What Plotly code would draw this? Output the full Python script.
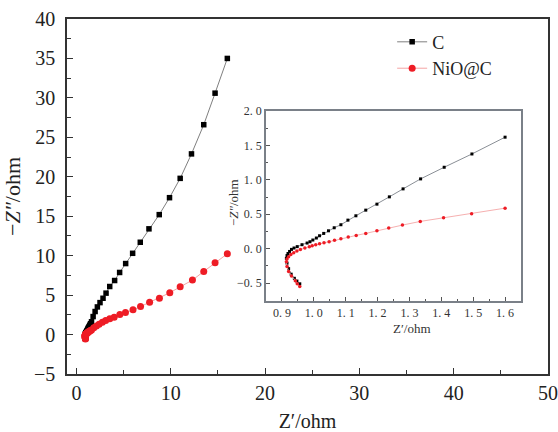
import plotly.graph_objects as go

# ---- data (Z' , -Z'') ----
c_x = [0.956, 0.947, 0.939, 0.929, 0.921, 0.916, 0.914, 0.916, 0.919, 0.924, 0.93, 0.938, 0.948, 0.963,
       0.979, 0.988, 0.997, 1.008, 1.018, 1.031, 1.046, 1.064, 1.085, 1.107, 1.132, 1.163,
       1.198, 1.237, 1.28, 1.335, 1.409, 1.496, 1.6,
       1.77, 1.98, 2.22, 2.5, 2.82, 3.14, 3.53, 4.05, 4.58, 5.22, 5.96, 6.77, 7.69, 8.78,
       9.87, 11.0, 12.2, 13.5, 14.7, 16.0]
c_y = [-0.51, -0.47, -0.43, -0.37, -0.29, -0.21, -0.14, -0.10, -0.07, -0.04, -0.01, 0.01, 0.03, 0.058,
       0.082, 0.101, 0.126, 0.155, 0.188, 0.222, 0.26, 0.304, 0.348, 0.415, 0.478, 0.56,
       0.647, 0.753, 0.869, 1.014, 1.183, 1.376, 1.62,
       2.28, 2.92, 3.5, 4.05, 4.6, 5.25, 6.09, 6.85, 7.87, 9.0, 10.3, 11.7, 13.4, 15.2,
       17.35, 19.8, 22.9, 26.6, 30.6, 35.0]

n_x = [0.956, 0.948, 0.942, 0.93, 0.921, 0.916, 0.914, 0.916, 0.921, 0.928, 0.937, 0.947, 0.958, 0.972,
       0.986, 0.995, 1.006, 1.018, 1.032, 1.048, 1.065, 1.085, 1.108, 1.133, 1.163, 1.198,
       1.235, 1.278, 1.334, 1.407, 1.495, 1.6,
       1.84, 2.12, 2.4, 2.75, 3.1, 3.53, 4.0, 4.6, 5.2, 6.0, 6.8, 7.76, 8.8, 9.9, 11.0,
       12.3, 13.5, 14.7, 16.0]
n_y = [-0.55, -0.51, -0.464, -0.396, -0.333, -0.26, -0.188, -0.15, -0.116, -0.085, -0.058, -0.033, -0.01, 0.01,
       0.029, 0.043, 0.058, 0.072, 0.087, 0.101, 0.121, 0.145, 0.169, 0.193, 0.222, 0.261,
       0.299, 0.343, 0.396, 0.449, 0.507, 0.589,
       0.85, 1.1, 1.3, 1.56, 1.78, 2.0, 2.2, 2.54, 2.8, 3.13, 3.55, 4.1, 4.6, 5.3, 6.05,
       6.9, 8.0, 9.1, 10.24]

inset_zmax = 1.6   # inset shows the high-frequency part up to Z' = 1.6 ohm

series_names = ["C", "NiO@C"]
inset_xticks = [0.9, 1.0, 1.1, 1.2, 1.3, 1.4, 1.5, 1.6]
inset_xtext = ["0.\u00a09", "1.\u00a00", "1.\u00a01", "1.\u00a02", "1.\u00a03", "1.\u00a04", "1.\u00a05", "1.\u00a06"]
inset_yticks = [-0.5, 0.0, 0.5, 1.0, 1.5, 2.0]
inset_ytext = ["\u22120.\u00a05", "0.\u00a00", "0.\u00a05", "1.\u00a00", "1.\u00a05", "2.\u00a00"]

SERIF = "Liberation Serif, Times New Roman, serif"
BLACK = "#000000"
RED = "#ee1c25"


def subset(xs, ys, xmax):
    px, py = [], []
    for a, b in zip(xs, ys):
        if a <= xmax + 1e-9:
            px.append(a)
            py.append(b)
    return px, py


cix, ciy = subset(c_x, c_y, inset_zmax)
nix, niy = subset(n_x, n_y, inset_zmax)

fig = go.Figure()
# main traces
fig.add_trace(go.Scatter(x=c_x, y=c_y, name=series_names[0], mode="lines+markers",
                         line=dict(color="#7f7f7f", width=1),
                         marker=dict(symbol="square", size=5.5, color=BLACK),
                         xaxis="x", yaxis="y"))
fig.add_trace(go.Scatter(x=n_x, y=n_y, name=series_names[1], mode="lines+markers",
                         line=dict(color="#f4a4a4", width=1),
                         marker=dict(symbol="circle", size=7, color=RED),
                         xaxis="x", yaxis="y"))
# inset traces
fig.add_trace(go.Scatter(x=cix, y=ciy, mode="lines+markers", showlegend=False,
                         line=dict(color="#8a8f96", width=1),
                         marker=dict(symbol="square", size=3, color=BLACK),
                         xaxis="x2", yaxis="y2"))
fig.add_trace(go.Scatter(x=nix, y=niy, mode="lines+markers", showlegend=False,
                         line=dict(color="#f6b0b0", width=1),
                         marker=dict(symbol="circle", size=3.5, color=RED),
                         xaxis="x2", yaxis="y2"))

main_axis = dict(showgrid=False, zeroline=False, showline=True, linecolor="#333333", linewidth=1.5,
                 mirror=True, ticks="inside", ticklen=6, tickwidth=1.2, tickcolor="#333333",
                 automargin=False,
                 tickfont=dict(family=SERIF, size=20, color="#222222"))
inset_axis = dict(showgrid=False, zeroline=False, showline=True, linecolor="#7a8088", linewidth=1.5,
                  mirror=True, ticks="inside", ticklen=4, tickwidth=1, tickcolor="#555555",
                  automargin=False,
                  tickfont=dict(family=SERIF, size=12, color="#333333"))

PL, PB, PW, PH = 67, 374, 481, 355  # plot-area geometry in pixels (for paper coords)

fig.update_layout(
    width=558, height=432,
    margin=dict(l=67, r=10, t=19, b=58),
    paper_bgcolor="white", plot_bgcolor="white",
    xaxis=dict(main_axis, range=[-1, 50], dtick=10, tick0=0,
               minor=dict(ticks="inside", dtick=5, ticklen=4, tickcolor="#333333"),
               title=dict(text="Z\u2032/ohm", font=dict(family=SERIF, size=20, color="#222222"), standoff=14),
               domain=[0, 1], anchor="y"),
    yaxis=dict(main_axis, range=[-5, 40], dtick=5, tick0=0, ticklabelstandoff=6,
               minor=dict(ticks="inside", dtick=2.5, ticklen=4, tickcolor="#333333"),
               title=dict(text="\u2212<i>Z\u2033</i>/ohm", font=dict(family=SERIF, size=22, color="#222222"), standoff=8),
               domain=[0, 1], anchor="x"),
    xaxis2=dict(inset_axis, range=[0.85, 1.65], tickmode="array", tickvals=inset_xticks, ticktext=inset_xtext,
                minor=dict(ticks="inside", dtick=0.05, tick0=0.85, ticklen=2.5, tickcolor="#555555"),
                domain=[0.4137, 0.9439], anchor="y2"),
    yaxis2=dict(inset_axis, range=[-0.76, 2.0], tickmode="array", tickvals=inset_yticks, ticktext=inset_ytext,
                minor=dict(ticks="inside", dtick=0.25, tick0=0, ticklen=2.5, tickcolor="#555555"),
                domain=[0.2056, 0.7408], anchor="x2"),
    annotations=[
        dict(text="Z\u2032/ohm", xref="paper", yref="paper",
             x=(412 - PL) / PW, y=(PB - 328) / PH, xanchor="center", yanchor="middle",
             showarrow=False, font=dict(family=SERIF, size=13, color="#333333")),
        dict(text="\u2212<i>Z\u2033</i>/ohm", xref="paper", yref="paper", textangle=-90,
             x=(233 - PL) / PW, y=(PB - 203) / PH, xanchor="center", yanchor="middle",
             showarrow=False, font=dict(family=SERIF, size=13, color="#333333")),
    ],
    legend=dict(x=0.676, y=0.987, xanchor="left", yanchor="top", bgcolor="rgba(0,0,0,0)",
                font=dict(family=SERIF, size=18, color="#222222"), tracegroupgap=0),
    showlegend=True,
)

fig.write_html("out.html", config={"displayModeBar": False},
               post_script="document.body.style.margin='0';")
